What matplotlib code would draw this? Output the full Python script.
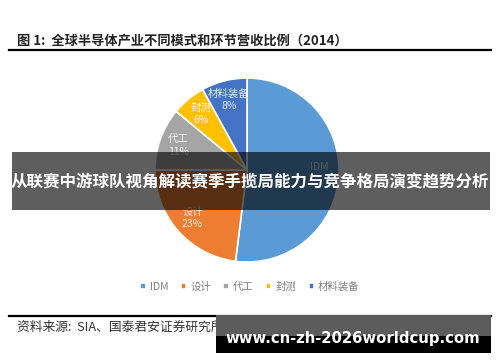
import matplotlib
matplotlib.use("Agg")
import matplotlib.pyplot as plt
from matplotlib.patches import Rectangle
import numpy as np

plt.rcParams['font.family'] = ['Noto Sans CJK SC', 'DejaVu Sans']

categories = ['IDM', '设计', '代工', '封测', '材料装备']
shares = [52, 23, 11, 6, 8]
colors = ['#5B9BD5', '#ED7D31', '#A5A5A5', '#FFC000', '#4472C4']

title = '图 1:  全球半导体产业不同模式和环节营收比例（2014）'
banner = '从联赛中游球队视角解读赛季手揽局能力与竞争格局演变趋势分析'
source = '资料来源:  SIA、国泰君安证券研究所'
watermark = 'www.cn-zh-2026worldcup.com'

W, H = 500, 362
fig = plt.figure(figsize=(W / 100, H / 100), dpi=100)
fig.patch.set_facecolor('white')

def fx(x):
    return x / W

def fy(y):
    return 1 - y / H

# pie axes: center (247,170), radius 92 px
ax = fig.add_axes([fx(155), fy(262), 184 / W, 184 / H])
wedges, _ = ax.pie(shares, colors=colors, startangle=90, counterclock=False,
                   wedgeprops=dict(edgecolor='white', linewidth=1.2))
ax.set_xlim(-1, 1)
ax.set_ylim(-1, 1)
ax.set_aspect('equal')
ax.axis('off')

for w, name, val in zip(wedges, categories, shares):
    mid = np.deg2rad((w.theta1 + w.theta2) / 2)
    r = 0.79
    x, y = r * np.cos(mid), r * np.sin(mid)
    # the IDM percentage sits under the banner in the reference and is not visible
    label = name if name == 'IDM' else f'{name}\n{val}%'
    yy = y + 0.08 if name == 'IDM' else y
    ax.text(x, yy, label, ha='center', va='center', fontsize=7.5,
            color='white', alpha=0.85, linespacing=1.3)

# legend
leg = fig.legend(wedges, categories, loc='center', bbox_to_anchor=(fx(250), fy(287)),
                 ncol=5, frameon=False, fontsize=7.5, handlelength=0.5, handleheight=0.5,
                 handletextpad=0.4, columnspacing=1.2, labelcolor='#808080')

# title and rules
fig.text(fx(17), fy(40), title, fontsize=9.5, fontweight='bold', color='#222222',
         ha='left', va='center')
fig.add_artist(plt.Line2D([fx(9), fx(491)], [fy(50), fy(50)], color='black', lw=1.6))
fig.add_artist(plt.Line2D([fx(9), fx(491)], [fy(316), fy(316)], color='black', lw=1.6))
fig.text(fx(17), fy(327), source, fontsize=9.2, color='#333333', ha='left', va='center')

# banner overlay
fig.add_artist(Rectangle((fx(12), fy(210)), (490 - 12) / W, 58 / H, transform=fig.transFigure,
                         facecolor='black', alpha=0.63, edgecolor='none', zorder=5))
fig.text(fx(250), fy(182), banner, fontsize=11.9, fontweight='bold', color='white',
         ha='center', va='center', zorder=6)

# watermark box
fig.add_artist(Rectangle((fx(216), fy(353)), (491 - 216) / W, 38 / H, transform=fig.transFigure,
                         facecolor='black', edgecolor='none', zorder=5))
fig.add_artist(Rectangle((fx(216), fy(336)), (491 - 216) / W, 21 / H, transform=fig.transFigure,
                         facecolor='#5c5c5c', edgecolor='none', zorder=5))
fig.text(fx(353), fy(339), watermark, fontsize=10.7, fontweight='bold', color='white',
         ha='center', va='center', zorder=6, family=['DejaVu Sans'])

fig.savefig('out.png', dpi=100, facecolor='white')
